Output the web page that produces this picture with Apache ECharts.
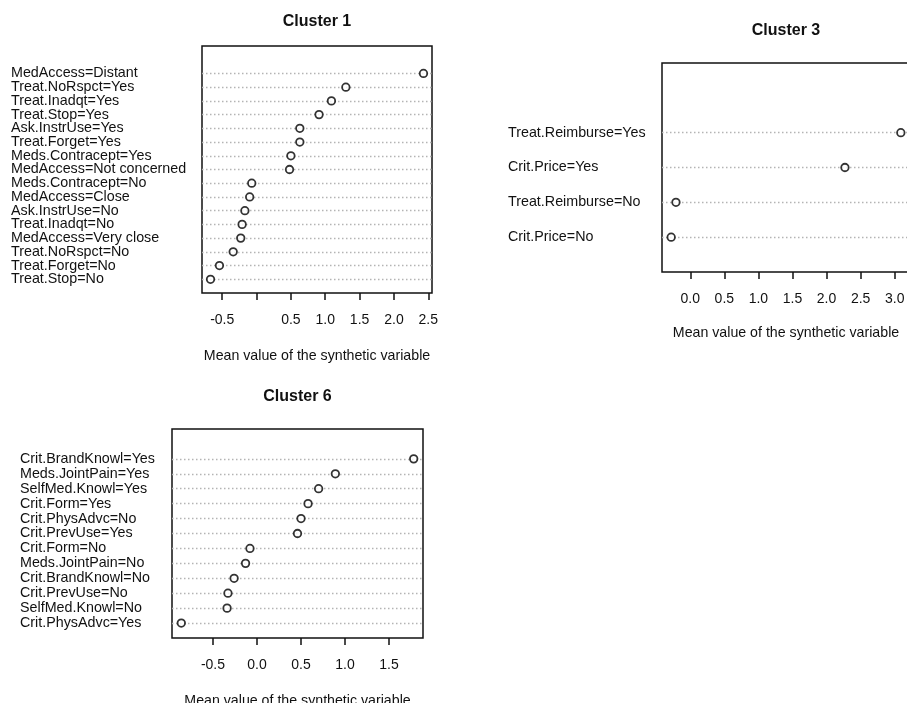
<!DOCTYPE html>
<html>
<head>
<meta charset="utf-8">
<script src="https://cdn.jsdelivr.net/npm/echarts@6/dist/echarts.min.js"></script>
<style>
  html, body { margin: 0; padding: 0; background: #fff; }
  #chart { width: 907px; height: 703px; }
</style>
</head>
<body>
<div id="chart"></div>
<script>
// Category modalities per cluster, listed top to bottom, with their mean values
const cluster1Labels = [
  'MedAccess=Distant', 'Treat.NoRspct=Yes', 'Treat.Inadqt=Yes', 'Treat.Stop=Yes',
  'Ask.InstrUse=Yes', 'Treat.Forget=Yes', 'Meds.Contracept=Yes', 'MedAccess=Not concerned',
  'Meds.Contracept=No', 'MedAccess=Close', 'Ask.InstrUse=No', 'Treat.Inadqt=No',
  'MedAccess=Very close', 'Treat.NoRspct=No', 'Treat.Forget=No', 'Treat.Stop=No'
];
const cluster1Values = [2.43, 1.30, 1.09, 0.91, 0.63, 0.63, 0.50, 0.48,
  -0.07, -0.10, -0.17, -0.21, -0.23, -0.34, -0.54, -0.67];
const cluster1Ticks = [-0.5, 0, 0.5, 1, 1.5, 2, 2.5];
const cluster1TickLabels = [-0.5, 0.5, 1, 1.5, 2, 2.5];

const cluster3Labels = ['Treat.Reimburse=Yes', 'Crit.Price=Yes', 'Treat.Reimburse=No', 'Crit.Price=No'];
const cluster3Values = [3.09, 2.27, -0.21, -0.28];
const cluster3Ticks = [0, 0.5, 1, 1.5, 2, 2.5, 3];
const cluster3TickLabels = [0, 0.5, 1, 1.5, 2, 2.5, 3];

const cluster6Labels = [
  'Crit.BrandKnowl=Yes', 'Meds.JointPain=Yes', 'SelfMed.Knowl=Yes', 'Crit.Form=Yes',
  'Crit.PhysAdvc=No', 'Crit.PrevUse=Yes', 'Crit.Form=No', 'Meds.JointPain=No',
  'Crit.BrandKnowl=No', 'Crit.PrevUse=No', 'SelfMed.Knowl=No', 'Crit.PhysAdvc=Yes'
];
const cluster6Values = [1.78, 0.89, 0.70, 0.58, 0.50, 0.46, -0.08, -0.13, -0.26, -0.33, -0.34, -0.86];
const cluster6Ticks = [-0.5, 0, 0.5, 1, 1.5];
const cluster6TickLabels = [-0.5, 0, 0.5, 1, 1.5];

const xTitle = 'Mean value of the synthetic variable';
const FONT = "'Liberation Sans', Arial, Helvetica, sans-serif";
const TEXT = '#111';

// Panel layout: plot box, label column and title placement
const panels = [
  { title: 'Cluster 1', labels: cluster1Labels, values: cluster1Values,
    ticks: cluster1Ticks, tickLabels: cluster1TickLabels,
    box: { left: 202, top: 46, width: 230, height: 247 }, labelX: 11, titleY: 20, nameGap: 56 },
  { title: 'Cluster 3', labels: cluster3Labels, values: cluster3Values,
    ticks: cluster3Ticks, tickLabels: cluster3TickLabels,
    box: { left: 662, top: 63, width: 248, height: 209 }, labelX: 508, titleY: 29, nameGap: 54 },
  { title: 'Cluster 6', labels: cluster6Labels, values: cluster6Values,
    ticks: cluster6Ticks, tickLabels: cluster6TickLabels,
    box: { left: 172, top: 429, width: 251, height: 209 }, labelX: 20, titleY: 395, nameGap: 56 }
];

const option = {
  animation: false,
  backgroundColor: '#fff',
  textStyle: { fontFamily: FONT },
  title: [], grid: [], xAxis: [], yAxis: [], series: []
};

panels.forEach((p, i) => {
  const n = p.labels.length;
  const lo = Math.min(...p.values), hi = Math.max(...p.values);
  const pad = 0.04 * (hi - lo);
  // Row slots from the bottom: an empty slot below, the modalities, two empty slots above
  const slots = [''].concat(p.labels.slice().reverse(), ['', '']);
  const rowOf = k => n - k;
  const rows = p.labels.map((_, k) => rowOf(k));

  option.title.push({
    text: p.title, left: p.box.left + p.box.width / 2, top: p.titleY - 6,
    textAlign: 'center', padding: 0,
    textStyle: { fontFamily: FONT, fontSize: 16, fontWeight: 'bold', color: TEXT }
  });
  option.grid.push({
    left: p.box.left, top: p.box.top, width: p.box.width, height: p.box.height,
    outerBoundsMode: 'none', containLabel: false,
    show: true, borderColor: '#111', borderWidth: 1.5, backgroundColor: 'transparent'
  });
  option.xAxis.push({
    type: 'value', gridIndex: i, min: lo - pad, max: hi + pad,
    axisLine: { show: false },
    splitLine: { show: false },
    axisTick: { show: true, inside: false, length: 7, customValues: p.ticks,
      lineStyle: { color: '#111', width: 1.5 } },
    axisLabel: { customValues: p.tickLabels, margin: 20, fontSize: 14, color: TEXT,
      fontFamily: FONT, showMinLabel: true, showMaxLabel: true,
      formatter: v => Number(v).toFixed(1) },
    name: xTitle, nameLocation: 'middle', nameGap: p.nameGap,
    nameTextStyle: { fontSize: 14.2, color: TEXT, fontFamily: FONT }
  });
  option.yAxis.push({
    type: 'category', gridIndex: i, data: slots, boundaryGap: false,
    axisLine: { show: false }, axisTick: { show: false }, splitLine: { show: false },
    axisLabel: {
      interval: 0, align: 'left', margin: p.box.left - p.labelX,
      fontSize: 14.3, color: TEXT, fontFamily: FONT, hideOverlap: false
    }
  });
  option.series.push({
    type: 'scatter', xAxisIndex: i, yAxisIndex: i,
    symbol: 'circle', symbolSize: 7.5,
    itemStyle: { color: '#fff', borderColor: '#000', borderWidth: 1.8 },
    data: p.values.map((v, k) => [v, rowOf(k)]),
    z: 3,
    markLine: {
      silent: true, symbol: 'none', label: { show: false }, z: 1,
      lineStyle: { color: '#b4b4b4', type: [1.5, 2.5], width: 1.3 },
      emphasis: { disabled: true },
      data: rows.map(r => ({ yAxis: r }))
    }
  });
});

const chart = echarts.init(document.getElementById('chart'), null, { renderer: 'canvas' });
chart.setOption(option);
</script>
</body>
</html>
